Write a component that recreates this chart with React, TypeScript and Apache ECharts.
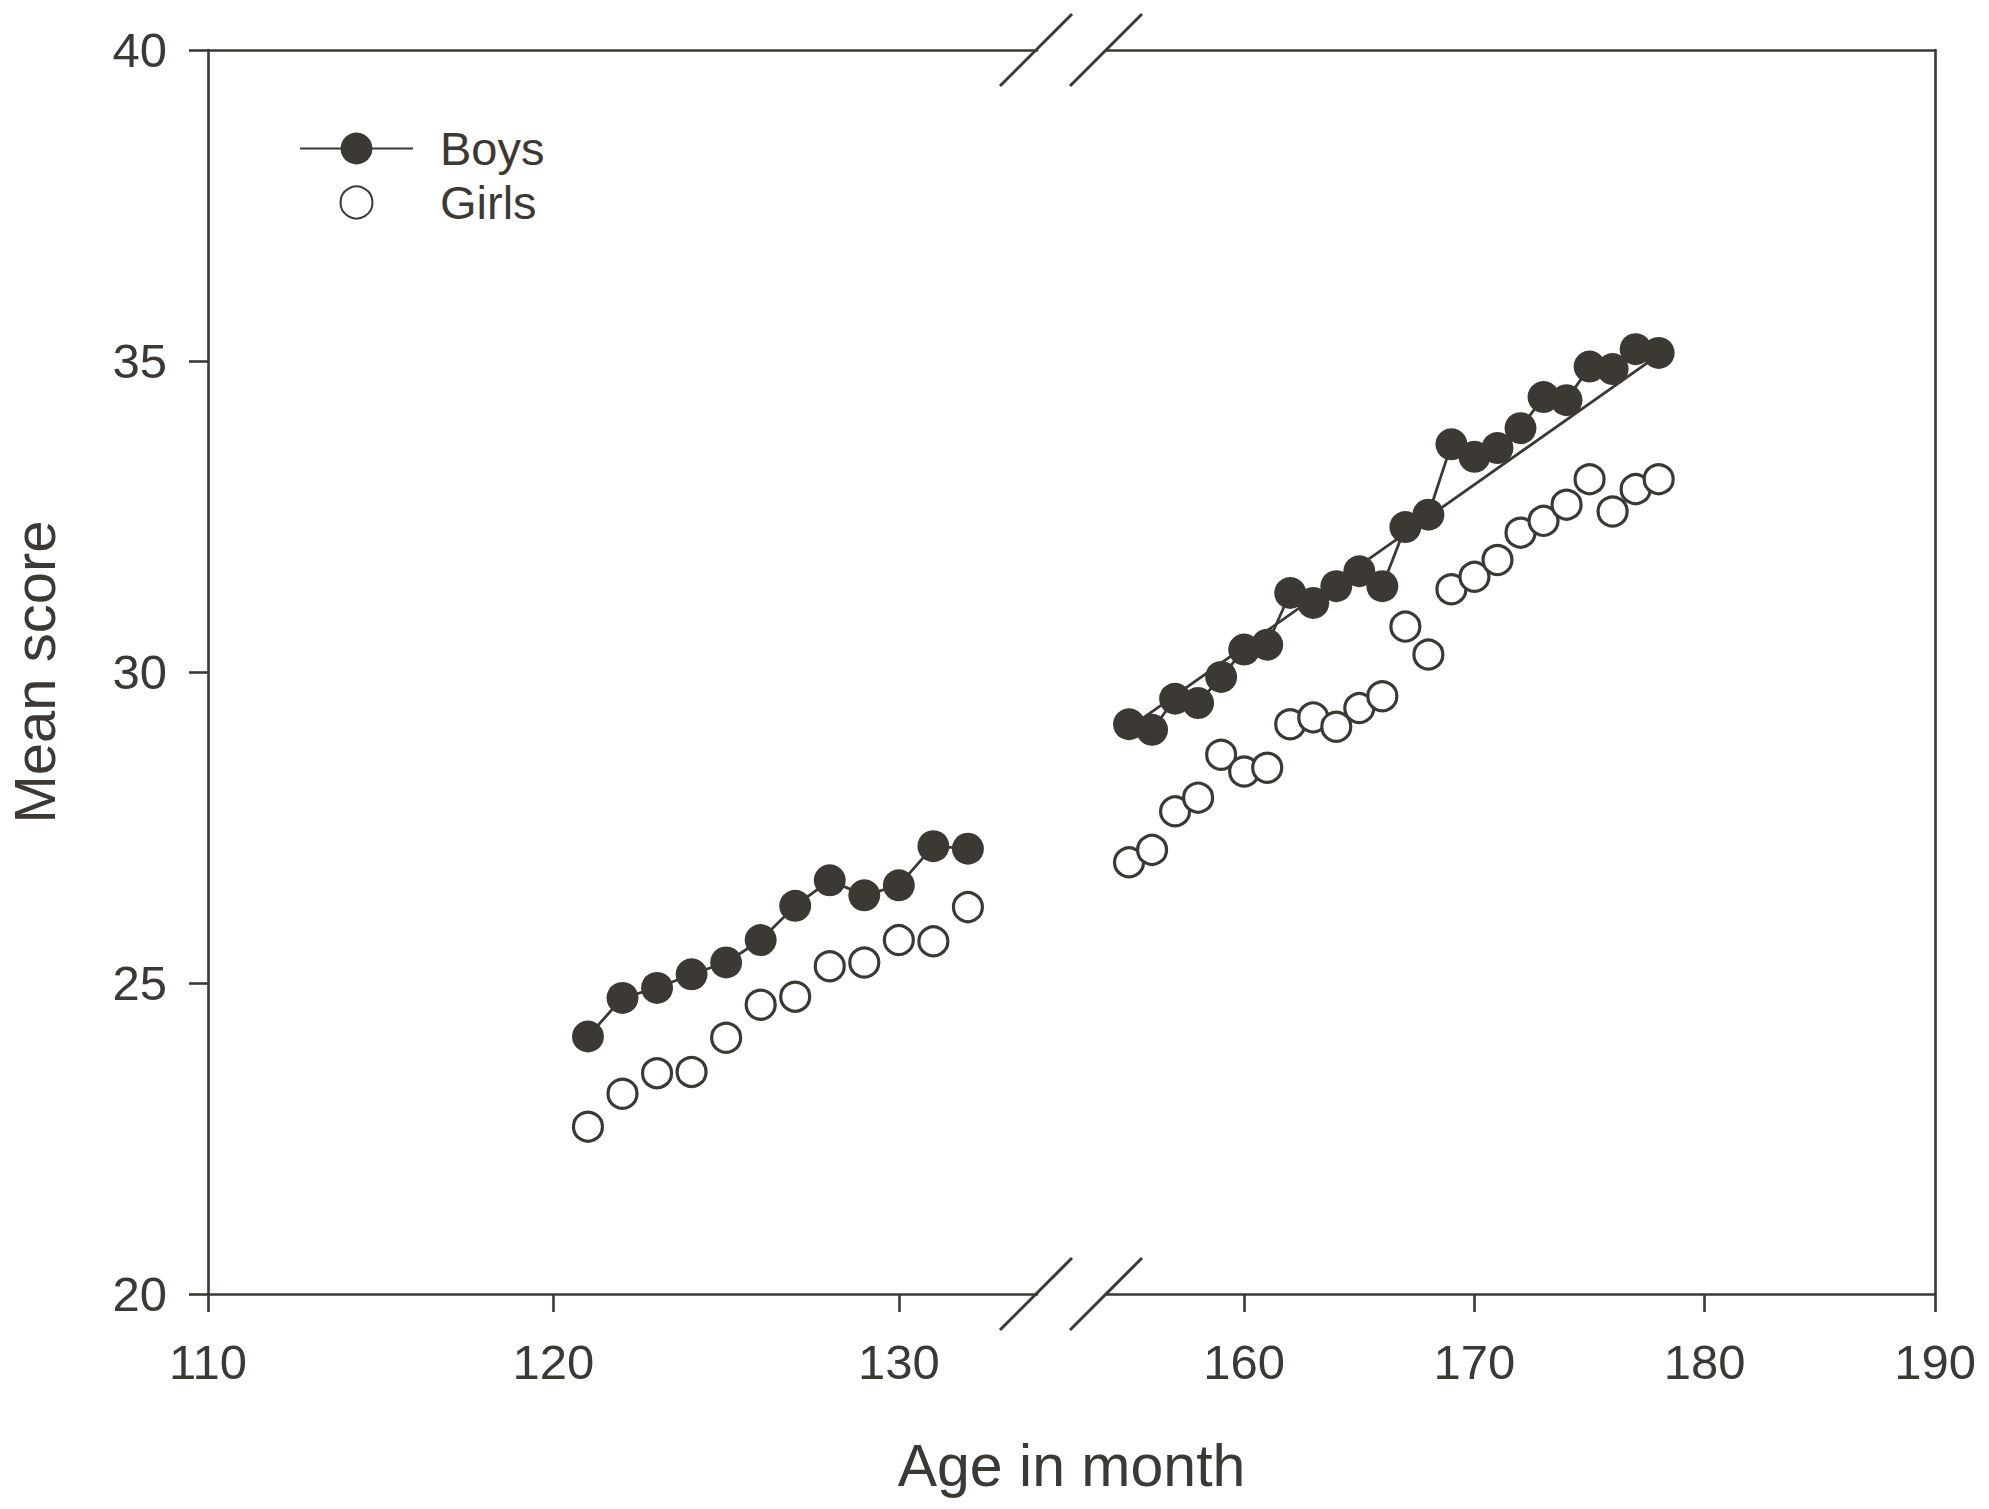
import React, { useEffect, useRef } from "react";
import * as echarts from "echarts";

// ---- Data ----
const leftAges = [121, 122, 123, 124, 125, 126, 127, 128, 129, 130, 131, 132];
const boysLeftScores = [24.14, 24.76, 24.92, 25.14, 25.33, 25.69, 26.24, 26.65, 26.41, 26.57, 27.2, 27.16];
const girlsLeftScores = [22.69, 23.22, 23.55, 23.57, 24.12, 24.65, 24.78, 25.27, 25.33, 25.69, 25.67, 26.22];

const rightAges = [155, 156, 157, 158, 159, 160, 161, 162, 163, 164, 165, 166, 167, 168, 169, 170, 171, 172, 173, 174, 175, 176, 177, 178];
const boysRightScores = [29.16, 29.07, 29.57, 29.5, 29.92, 30.36, 30.44, 31.27, 31.11, 31.38, 31.62, 31.38, 32.33, 32.53, 33.66, 33.46, 33.6, 33.92, 34.42, 34.37, 34.91, 34.87, 35.19, 35.13];
const girlsRightScores = [26.94, 27.14, 27.76, 27.98, 28.67, 28.4, 28.46, 29.16, 29.27, 29.12, 29.42, 29.61, 30.73, 30.28, 31.33, 31.53, 31.8, 32.24, 32.43, 32.69, 33.1, 32.58, 32.94, 33.1];

const boysTrendAges = [155, 178];
const boysTrendScores = [29.1, 35.1];

const leftTicks = [110, 120, 130];
const rightTicks = [160, 170, 180, 190];
const leftRange = [110, 134];
const rightRange = [154, 190];
const yRange = [20, 40];
const yInterval = 5;

const seriesNames = ["Boys", "Girls"];
const xTitle = "Age in month";
const yTitle = "Mean score";

// ---- Style / layout ----
const DARK = "#3c3934";
const FONT = "'Liberation Sans', Arial, Helvetica, sans-serif";
const W = 1989;
const H = 1509;
const PLOT_TOP = 50;
const PLOT_BOTTOM = 1294;
const G0_LEFT = 208;
const G0_RIGHT = 1037;
const G1_LEFT = 1106;
const G1_RIGHT = 1935;
const AXIS_W = 2.6;

const zip = (xs: number[], ys: number[]) => xs.map((x, i) => [x, ys[i]]);

function breakMarks(yMid: number) {
  const pairs = [
    [1000, 1072],
    [1070, 1142],
  ];
  return pairs.map(([xa, xb]) => ({
    type: "line",
    z: 100,
    shape: { x1: xa, y1: yMid + 36, x2: xb, y2: yMid - 36 },
    style: { stroke: DARK, lineWidth: 3 },
  }));
}

export default function App() {
  const ref = useRef<HTMLDivElement>(null);

  useEffect(() => {
    if (!ref.current) return;
    const chart = echarts.init(ref.current, undefined, { renderer: "svg" });

    const bottomAxis = (grid: number, range: number[], ticks: number[]) => ({
      type: "value",
      gridIndex: grid,
      position: "bottom",
      min: range[0],
      max: range[1],
      axisLine: { show: true, onZero: false, lineStyle: { color: DARK, width: AXIS_W } },
      axisTick: { show: true, inside: false, length: 18, customValues: ticks, lineStyle: { color: DARK, width: AXIS_W } },
      axisLabel: { show: true, customValues: ticks, fontSize: 49, margin: 43, color: DARK, fontFamily: FONT },
      splitLine: { show: false },
    });
    const topAxis = (grid: number, range: number[]) => ({
      type: "value",
      gridIndex: grid,
      position: "top",
      min: range[0],
      max: range[1],
      axisLine: { show: true, onZero: false, lineStyle: { color: DARK, width: AXIS_W } },
      axisTick: { show: false },
      axisLabel: { show: false },
      splitLine: { show: false },
    });

    const boysStyle = {
      type: "line",
      name: seriesNames[0],
      symbol: "circle",
      symbolSize: 32,
      itemStyle: { color: DARK },
      lineStyle: { color: DARK, width: 2.8 },
      z: 4,
      emphasis: { disabled: true },
    };
    const girlsStyle = {
      type: "line",
      name: seriesNames[1],
      symbol: "circle",
      symbolSize: 29,
      itemStyle: { color: "#ffffff", borderColor: DARK, borderWidth: 3.2 },
      lineStyle: { opacity: 0, width: 0 },
      z: 5,
      emphasis: { disabled: true },
    };

    const option = {
      animation: false,
      backgroundColor: "#ffffff",
      textStyle: { fontFamily: FONT, color: DARK },
      grid: [
        { left: G0_LEFT, top: PLOT_TOP, width: G0_RIGHT - G0_LEFT, height: PLOT_BOTTOM - PLOT_TOP },
        { left: G1_LEFT, top: PLOT_TOP, width: G1_RIGHT - G1_LEFT, height: PLOT_BOTTOM - PLOT_TOP },
      ],
      xAxis: [
        bottomAxis(0, leftRange, leftTicks),
        topAxis(0, leftRange),
        bottomAxis(1, rightRange, rightTicks),
        topAxis(1, rightRange),
      ],
      yAxis: [
        {
          type: "value",
          gridIndex: 0,
          position: "left",
          min: yRange[0],
          max: yRange[1],
          interval: yInterval,
          axisLine: { show: true, onZero: false, lineStyle: { color: DARK, width: AXIS_W } },
          axisTick: { show: true, inside: false, length: 19, lineStyle: { color: DARK, width: AXIS_W } },
          axisLabel: { show: true, fontSize: 49, margin: 41, color: DARK, fontFamily: FONT },
          splitLine: { show: false },
          name: yTitle,
          nameLocation: "middle",
          nameRotate: 90,
          nameGap: 145,
          nameTextStyle: { fontSize: 58, color: DARK, fontFamily: FONT },
        },
        {
          type: "value",
          gridIndex: 1,
          position: "right",
          min: yRange[0],
          max: yRange[1],
          interval: yInterval,
          axisLine: { show: true, onZero: false, lineStyle: { color: DARK, width: AXIS_W } },
          axisTick: { show: false },
          axisLabel: { show: false },
          splitLine: { show: false },
        },
      ],
      legend: {
        data: seriesNames,
        orient: "vertical",
        left: 294,
        top: 120,
        itemWidth: 113,
        itemHeight: 40,
        itemGap: 7,
        selectedMode: false,
        textStyle: { fontSize: 47, color: DARK, fontFamily: FONT, padding: [0, 0, 0, 22] },
      },
      series: [
        { ...boysStyle, xAxisIndex: 0, yAxisIndex: 0, data: zip(leftAges, boysLeftScores) },
        { ...girlsStyle, xAxisIndex: 0, yAxisIndex: 0, data: zip(leftAges, girlsLeftScores) },
        {
          type: "line",
          name: "Boys trend",
          xAxisIndex: 2,
          yAxisIndex: 1,
          symbol: "none",
          lineStyle: { color: DARK, width: 2.8 },
          z: 3,
          emphasis: { disabled: true },
          data: zip(boysTrendAges, boysTrendScores),
        },
        { ...boysStyle, xAxisIndex: 2, yAxisIndex: 1, data: zip(rightAges, boysRightScores) },
        { ...girlsStyle, xAxisIndex: 2, yAxisIndex: 1, data: zip(rightAges, girlsRightScores) },
      ],
      graphic: [
        ...breakMarks(PLOT_TOP),
        ...breakMarks(PLOT_BOTTOM),
        {
          type: "text",
          x: (G0_LEFT + G1_RIGHT) / 2,
          y: 1466,
          style: {
            text: xTitle,
            fontSize: 59,
            fill: DARK,
            fontFamily: FONT,
            align: "center",
            verticalAlign: "middle",
          },
        },
      ],
    };

    chart.setOption(option as any);
    return () => chart.dispose();
  }, []);

  return (
    <div
      ref={ref}
      style={{ position: "fixed", left: 0, top: 0, width: W, height: H, background: "#fff" }}
    />
  );
}
